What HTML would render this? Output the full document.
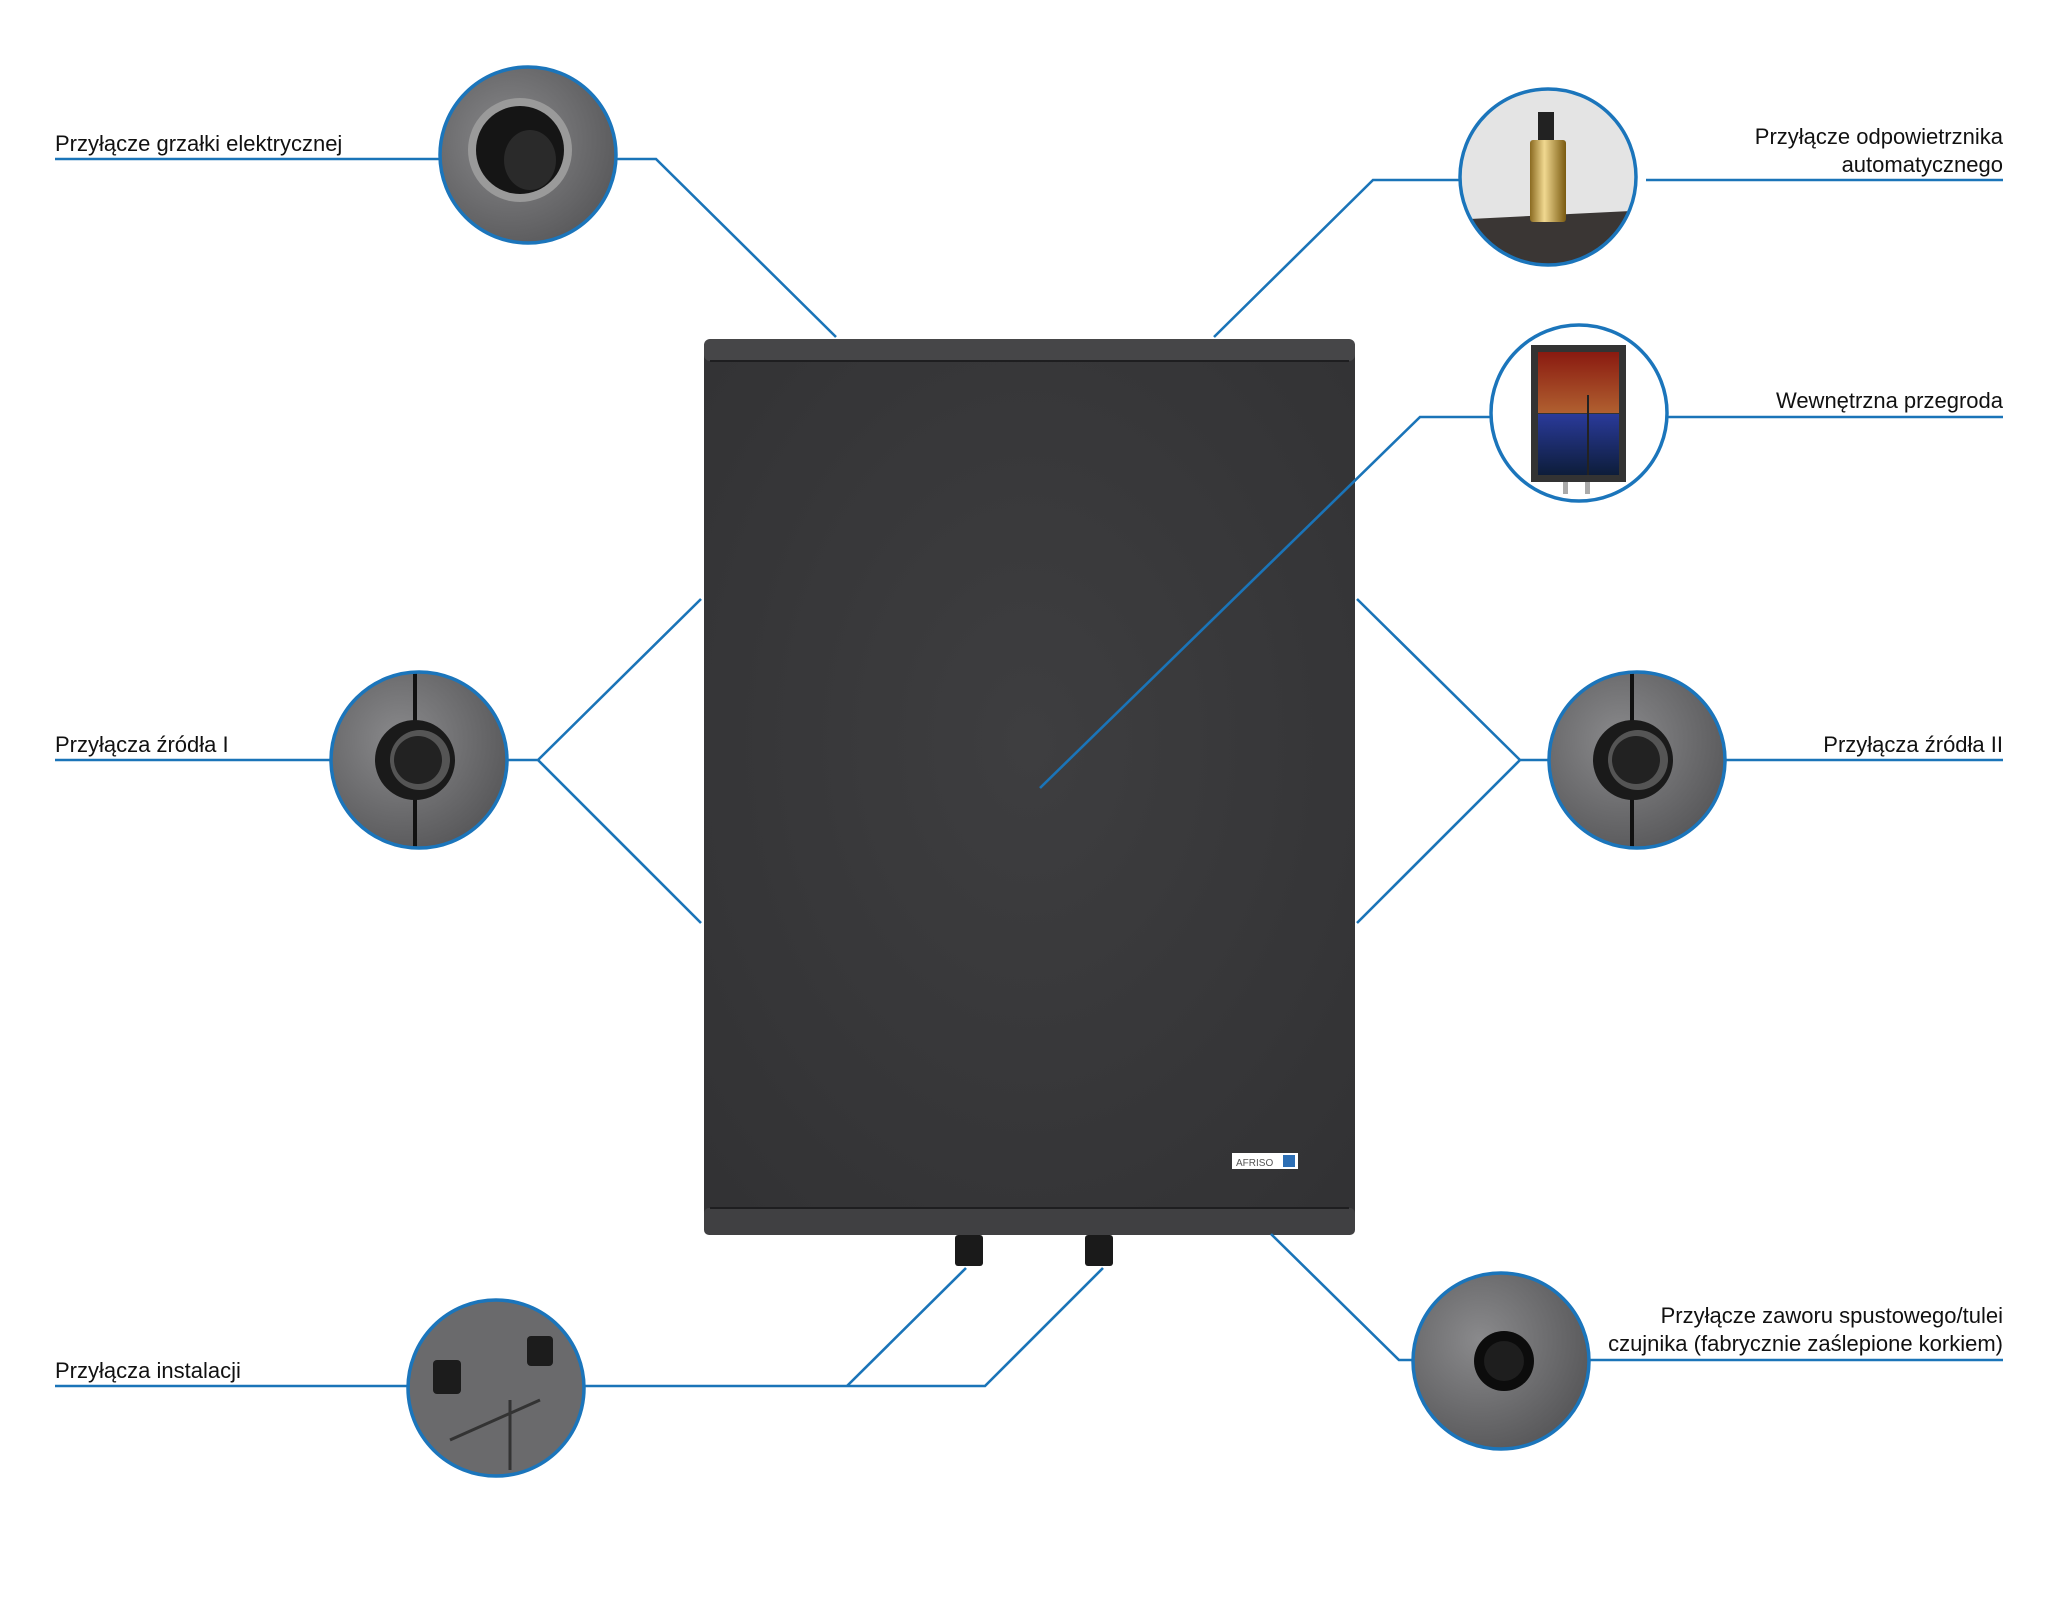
<!DOCTYPE html>
<html><head><meta charset="utf-8"><style>
html,body{margin:0;padding:0;background:#fff}
svg{display:block}
text{font-family:"Liberation Sans",sans-serif;font-size:22px;fill:#111}
</style></head><body>
<svg width="2048" height="1601" viewBox="0 0 2048 1601" xmlns="http://www.w3.org/2000/svg">
<defs>
<radialGradient id="bx" cx="50%" cy="45%" r="70%"><stop offset="0" stop-color="#3e3e40"/><stop offset="1" stop-color="#323234"/></radialGradient>
<radialGradient id="foam" cx="40%" cy="40%" r="70%"><stop offset="0" stop-color="#8a8a8c"/><stop offset="1" stop-color="#4e4e50"/></radialGradient>
<linearGradient id="hot" x1="0" y1="0" x2="0" y2="1"><stop offset="0" stop-color="#8a1a10"/><stop offset="1" stop-color="#b06030"/></linearGradient>
<linearGradient id="cold" x1="0" y1="0" x2="0" y2="1"><stop offset="0" stop-color="#2a3a9a"/><stop offset="1" stop-color="#0d1d3a"/></linearGradient>
<linearGradient id="brass" x1="0" y1="0" x2="1" y2="0"><stop offset="0" stop-color="#8a6a20"/><stop offset=".4" stop-color="#f0d890"/><stop offset="1" stop-color="#7a5a10"/></linearGradient>
<clipPath id="c1"><circle cx="528" cy="155" r="88"/></clipPath>
<clipPath id="c2"><circle cx="1548" cy="177" r="88"/></clipPath>
<clipPath id="c3"><circle cx="1579" cy="413" r="88"/></clipPath>
<clipPath id="c4"><circle cx="419" cy="760" r="88"/></clipPath>
<clipPath id="c5"><circle cx="1637" cy="760" r="88"/></clipPath>
<clipPath id="c6"><circle cx="496" cy="1388" r="88"/></clipPath>
<clipPath id="c7"><circle cx="1501" cy="1361" r="88"/></clipPath>
</defs>

<rect x="704" y="339" width="651" height="896" rx="8" fill="url(#bx)"/>
<rect x="704" y="339" width="651" height="22" rx="6" fill="#464648"/>
<line x1="710" y1="361" x2="1349" y2="361" stroke="#1e1e20" stroke-width="2"/>
<rect x="704" y="1208" width="651" height="27" rx="5" fill="#404042"/>
<line x1="710" y1="1208" x2="1349" y2="1208" stroke="#1e1e20" stroke-width="2"/>
<rect x="955" y="1235" width="28" height="31" rx="3" fill="#1a1a1a"/>
<rect x="1085" y="1235" width="28" height="31" rx="3" fill="#1a1a1a"/>
<rect x="1232" y="1153" width="66" height="16" fill="#fff"/>
<rect x="1283" y="1155" width="12" height="12" fill="#2d6fb5"/>
<text x="1236" y="1166" style="font-size:10px;fill:#555">AFRISO</text>

<g stroke="#1a74b8" stroke-width="2.6" fill="none">
<polyline points="55,159 440,159"/><polyline points="616,159 656,159 836,337"/>
<polyline points="1646,180 2003,180"/><polyline points="1460,180 1373,180 1214,337"/>
<polyline points="1667,417 2003,417"/><polyline points="1491,417 1420,417 1040,788"/>
<polyline points="55,760 331,760"/><polyline points="507,760 538,760 701,599"/><polyline points="538,760 701,923"/>
<polyline points="1725,760 2003,760"/><polyline points="1549,760 1520,760 1357,599"/><polyline points="1520,760 1357,923"/>
<polyline points="55,1386 408,1386"/><polyline points="584,1386 985,1386 1103,1268"/><polyline points="847,1386 966,1268"/>
<polyline points="1589,1360 2003,1360"/><polyline points="1413,1360 1399,1360 1271,1234"/>
</g>

<g clip-path="url(#c1)"><rect x="430" y="60" width="200" height="200" fill="url(#foam)"/>
<circle cx="520" cy="150" r="52" fill="#9a9a9a"/><circle cx="520" cy="150" r="44" fill="#151515"/><ellipse cx="530" cy="160" rx="26" ry="30" fill="#2a2a2a"/></g>
<g clip-path="url(#c2)"><rect x="1450" y="80" width="200" height="200" fill="#e4e4e4"/>
<polygon points="1450,220 1650,210 1650,280 1450,280" fill="#3a3634"/>
<rect x="1538" y="112" width="16" height="30" fill="#222"/>
<rect x="1530" y="140" width="36" height="82" rx="3" fill="url(#brass)"/></g>
<g clip-path="url(#c3)"><rect x="1490" y="320" width="180" height="190" fill="#fff"/>
<rect x="1531" y="345" width="95" height="137" fill="#333"/>
<rect x="1538" y="352" width="81" height="61" fill="url(#hot)"/>
<rect x="1538" y="414" width="81" height="61" fill="url(#cold)"/>
<line x1="1588" y1="395" x2="1588" y2="475" stroke="#222" stroke-width="2"/>
<rect x="1563" y="482" width="5" height="12" fill="#aaa"/><rect x="1585" y="482" width="5" height="12" fill="#aaa"/></g>
<g clip-path="url(#c4)"><rect x="320" y="660" width="200" height="200" fill="url(#foam)"/>
<line x1="415" y1="660" x2="415" y2="860" stroke="#111" stroke-width="4"/>
<circle cx="415" cy="760" r="40" fill="#1a1a1a"/><circle cx="420" cy="760" r="30" fill="#555"/><circle cx="418" cy="760" r="24" fill="#222"/></g>
<g clip-path="url(#c5)"><rect x="1540" y="660" width="200" height="200" fill="url(#foam)"/>
<line x1="1632" y1="660" x2="1632" y2="860" stroke="#111" stroke-width="4"/>
<circle cx="1633" cy="760" r="40" fill="#1a1a1a"/><circle cx="1638" cy="760" r="30" fill="#555"/><circle cx="1636" cy="760" r="24" fill="#222"/></g>
<g clip-path="url(#c6)"><rect x="400" y="1290" width="200" height="200" fill="#6a6a6c"/>
<rect x="433" y="1360" width="28" height="34" rx="4" fill="#1c1c1c"/>
<rect x="527" y="1336" width="26" height="30" rx="4" fill="#1c1c1c"/>
<line x1="450" y1="1440" x2="540" y2="1400" stroke="#333" stroke-width="3"/>
<line x1="510" y1="1400" x2="510" y2="1470" stroke="#333" stroke-width="3"/></g>
<g clip-path="url(#c7)"><rect x="1400" y="1260" width="200" height="200" fill="url(#foam)"/>
<circle cx="1504" cy="1361" r="30" fill="#0c0c0c"/><circle cx="1504" cy="1361" r="20" fill="#1e1e1e"/></g>

<g fill="none" stroke="#1b75bb" stroke-width="3.5">
<circle cx="528" cy="155" r="88"/><circle cx="1548" cy="177" r="88"/><circle cx="1579" cy="413" r="88"/>
<circle cx="419" cy="760" r="88"/><circle cx="1637" cy="760" r="88"/><circle cx="496" cy="1388" r="88"/><circle cx="1501" cy="1361" r="88"/>
</g>

<text x="55" y="151">Przyłącze grzałki elektrycznej</text>
<text x="2003" y="144" text-anchor="end">Przyłącze odpowietrznika</text>
<text x="2003" y="172" text-anchor="end">automatycznego</text>
<text x="2003" y="408" text-anchor="end">Wewnętrzna przegroda</text>
<text x="55" y="752">Przyłącza źródła I</text>
<text x="2003" y="752" text-anchor="end">Przyłącza źródła II</text>
<text x="55" y="1378">Przyłącza instalacji</text>
<text x="2003" y="1323" text-anchor="end">Przyłącze zaworu spustowego/tulei</text>
<text x="2003" y="1351" text-anchor="end">czujnika (fabrycznie zaślepione korkiem)</text>
</svg>
</body></html>
